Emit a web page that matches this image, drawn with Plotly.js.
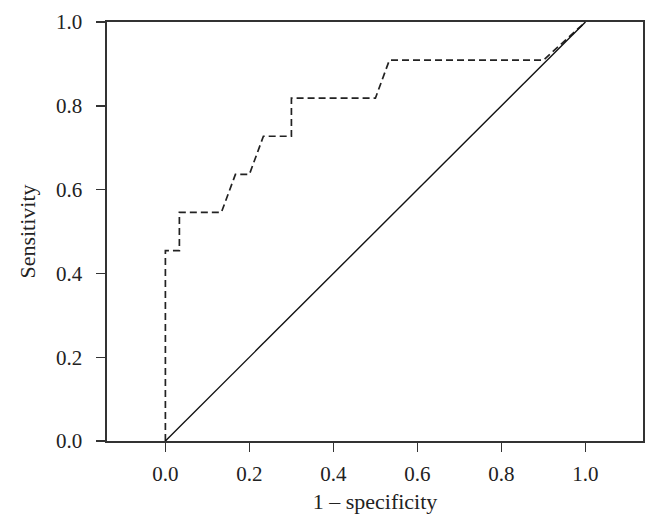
<!DOCTYPE html>
<html>
<head>
<meta charset="utf-8">
<script src="https://cdn.plot.ly/plotly-3.0.1.min.js"></script>
<style>
  body { margin: 0; background: #fff; }
  #chart { width: 658px; height: 530px; }
</style>
</head>
<body>
<div id="chart"></div>
<script>
// ROC curve steps (1 - specificity, sensitivity)
var fpr = [0, 0, 0.0333, 0.0333, 0.1333, 0.1667, 0.2, 0.2333, 0.3, 0.3, 0.5, 0.5333, 0.9, 1];
var tpr = [0, 0.4545, 0.4545, 0.5455, 0.5455, 0.6364, 0.6364, 0.7273, 0.7273, 0.8182, 0.8182, 0.9091, 0.9091, 1];

// chance line
var refX = [0, 1];
var refY = [0, 1];

var tickVals = [0, 0.2, 0.4, 0.6, 0.8, 1];
var tickText = ["0.0", "0.2", "0.4", "0.6", "0.8", "1.0"];

var roc = {
  x: fpr,
  y: tpr,
  mode: "lines",
  line: { color: "#222", width: 1.7, dash: "7px,4px" },
  showlegend: false,
  hoverinfo: "skip"
};

var chance = {
  x: refX,
  y: refY,
  mode: "lines",
  line: { color: "#111", width: 1.4 },
  showlegend: false,
  hoverinfo: "skip"
};

var tickFont = { family: "Liberation Serif, Times New Roman, serif", size: 21, color: "#222" };
var titleFont = { family: "Liberation Serif, Times New Roman, serif", size: 22, color: "#222" };

var layout = {
  width: 658,
  height: 530,
  margin: { l: 106.5, r: 15, t: 21.5, b: 89 },
  paper_bgcolor: "#fff",
  plot_bgcolor: "#fff",
  font: tickFont,
  xaxis: {
    range: [-0.139, 1.137],
    tickvals: tickVals,
    ticktext: tickText,
    ticks: "outside",
    ticklen: 9,
    tickwidth: 1.4,
    tickcolor: "#333",
    ticklabelstandoff: 4,
    showline: true,
    linecolor: "#333",
    linewidth: 1.6,
    mirror: true,
    showgrid: false,
    zeroline: false,
    tickfont: tickFont,
    title: { text: "1 \u2013 specificity", font: titleFont, standoff: 9 }
  },
  yaxis: {
    range: [0, 1],
    tickvals: tickVals,
    ticktext: tickText,
    ticks: "outside",
    ticklen: 9,
    tickwidth: 1.4,
    tickcolor: "#333",
    ticklabelstandoff: 10,
    showline: true,
    linecolor: "#333",
    linewidth: 1.6,
    mirror: true,
    showgrid: false,
    zeroline: false,
    tickfont: tickFont,
    title: { text: "Sensitivity", font: titleFont, standoff: 14 }
  }
};

Plotly.newPlot("chart", [roc, chance], layout, { displayModeBar: false, staticPlot: true });
</script>
</body>
</html>
